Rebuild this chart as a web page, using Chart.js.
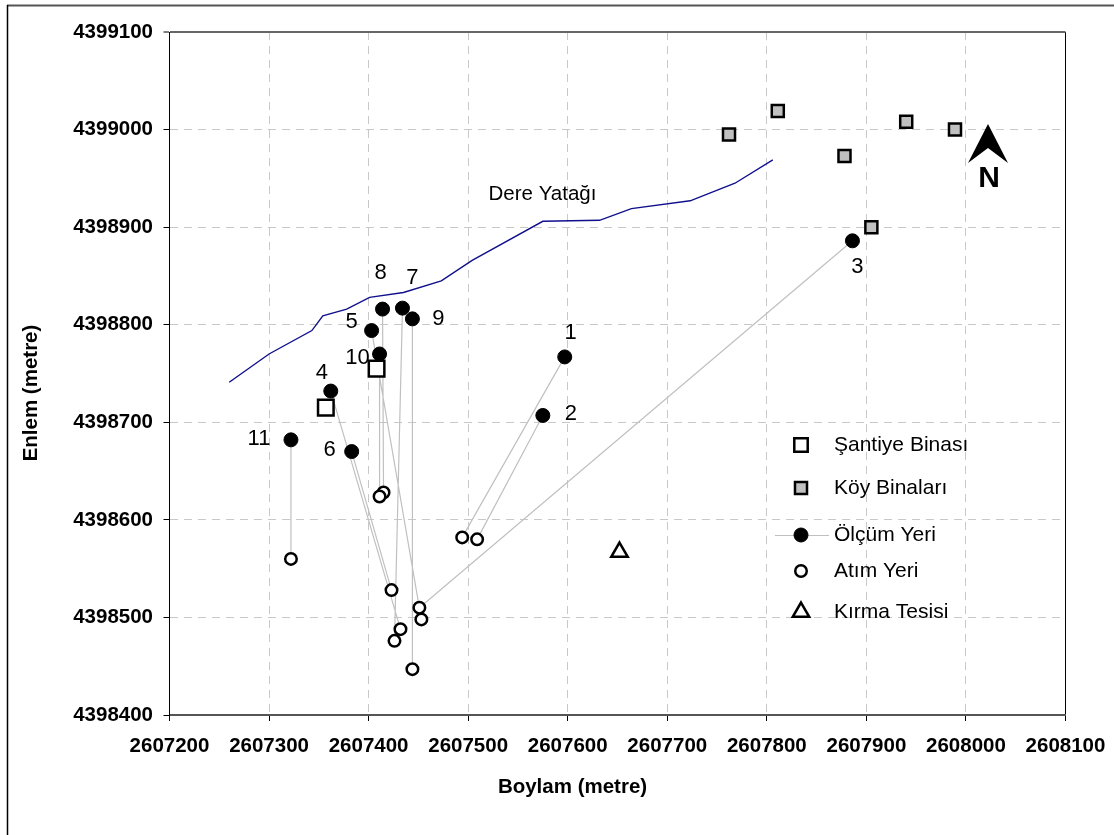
<!DOCTYPE html>
<html lang="tr">
<head>
<meta charset="UTF-8">
<title>Ölçüm ve Atım Yerleri</title>
<script src="https://cdn.jsdelivr.net/npm/chart.js"></script>
<style>
  html, body { margin: 0; background: #fff; }
  canvas { display: block; }
</style>
</head>
<body>
<canvas id="myChart" width="1114" height="835"></canvas>
<script>
// data
const xTicks = [2607200, 2607300, 2607400, 2607500, 2607600, 2607700, 2607800, 2607900, 2608000, 2608100];
const yTicks = [4398400, 4398500, 4398600, 4398700, 4398800, 4398900, 4399000, 4399100];

// measurement points 1..11 and the blast each one is tied to
const olcumNames = ['1', '2', '3', '4', '5', '6', '7', '8', '9', '10', '11'];
const olcumX = [2607597, 2607575, 2607886, 2607362, 2607403, 2607383, 2607434, 2607414, 2607444, 2607411, 2607322];
const olcumY = [4398767, 4398707, 4398886, 4398732, 4398794, 4398670, 4398817, 4398816, 4398806, 4398770, 4398682];
const atimX = [2607494, 2607509, 2607451, 2607432, 2607453, 2607423, 2607426, 2607415, 2607444, 2607411, 2607322];
const atimY = [4398582, 4398580, 4398510, 4398488, 4398498, 4398528, 4398476, 4398628, 4398447, 4398624, 4398560];

const santiyeX = [2607408, 2607357];
const santiyeY = [4398755, 4398715];
const koyX = [2607762, 2607811, 2607878, 2607940, 2607989, 2607905];
const koyY = [4398995, 4399019, 4398973, 4399008, 4399000, 4398900];
const kirmaX = [2607652];
const kirmaY = [4398567];

const dereX = [2607260, 2607300, 2607343, 2607354, 2607378, 2607401, 2607435, 2607473, 2607504, 2607575, 2607632, 2607664, 2607723, 2607768, 2607806];
const dereY = [4398741, 4398770, 4398794, 4398809, 4398816, 4398828, 4398833, 4398845, 4398866, 4398906, 4398907, 4398919, 4398927, 4398945, 4398969];

const pts = (xs, ys) => xs.map((x, i) => ({ x: x, y: ys[i] }));

// one line with gaps, olcum -> atim
const baglanti = [];
olcumX.forEach((x, i) => {
    baglanti.push({ x: x, y: olcumY[i] }, { x: atimX[i], y: atimY[i] }, { x: x, y: null });
});

const FONT = '"Liberation Sans", Arial, sans-serif';
const GRID = '#c8c8c8';

const styles = {
    santiye: { pointStyle: 'rect', radius: 11, legendRadius: 9.5, borderWidth: 2.5, borderColor: '#000', backgroundColor: '#fff' },
    koy: { pointStyle: 'rect', radius: 8.5, borderWidth: 2.5, borderColor: '#000', backgroundColor: '#c0c0c0' },
    olcum: { pointStyle: 'circle', radius: 7, borderWidth: 1, borderColor: '#000', backgroundColor: '#000' },
    atim: { pointStyle: 'circle', radius: 5.75, borderWidth: 2.5, borderColor: '#000', backgroundColor: '#fff' },
    kirma: { pointStyle: 'triangle', radius: 9.5, borderWidth: 2.5, borderColor: '#000', backgroundColor: '#fff' }
};

function scatter(label, data, st, order) {
    return {
        label: label, data: data, order: order, showLine: false,
        pointStyle: st.pointStyle, pointRadius: st.radius, pointBorderWidth: st.borderWidth,
        pointBorderColor: st.borderColor, pointBackgroundColor: st.backgroundColor
    };
}

// labels, frame, north arrow and the legend box
const numberOffsets = [[6, -24], [28, -2], [5, 26], [-9, -18], [-20, -9], [-22, -2], [10, -30], [-2, -36], [26, 0], [-22, 4], [-32, -1]];
const legendRows = [
    { text: 'Şantiye Binası', st: styles.santiye, y: 445 },
    { text: 'Köy Binaları', st: styles.koy, y: 488 },
    { text: 'Ölçüm Yeri', st: styles.olcum, y: 535, line: true },
    { text: 'Atım Yeri', st: styles.atim, y: 571 },
    { text: 'Kırma Tesisi', st: styles.kirma, y: 612 }
];

const extras = {
    id: 'extras',
    afterDraw(chart) {
        const ctx = chart.ctx, sx = chart.scales.x, sy = chart.scales.y;
        ctx.save();

        // frame, only top and left are inside the picture
        ctx.strokeStyle = '#555';
        ctx.lineWidth = 2;
        ctx.beginPath();
        ctx.moveTo(7, 5.5);
        ctx.lineTo(1114, 5.5);
        ctx.stroke();
        ctx.strokeStyle = '#000';
        ctx.lineWidth = 1.5;
        ctx.beginPath();
        ctx.moveTo(7.5, 835);
        ctx.lineTo(7.5, 5);
        ctx.stroke();

        ctx.fillStyle = '#000';
        ctx.textAlign = 'center';
        ctx.textBaseline = 'middle';

        // axis titles sit off centre here
        ctx.font = 'bold 20.5px ' + FONT;
        ctx.fillText('Boylam (metre)', 572.5, 787);
        ctx.save();
        ctx.translate(31, 393);
        ctx.rotate(-Math.PI / 2);
        ctx.fillText('Enlem (metre)', 0, 0);
        ctx.restore();

        ctx.font = '22px ' + FONT;
        olcumNames.forEach((n, i) => {
            ctx.fillText(n, sx.getPixelForValue(olcumX[i]) + numberOffsets[i][0], sy.getPixelForValue(olcumY[i]) + numberOffsets[i][1]);
        });

        ctx.font = '20.5px ' + FONT;
        ctx.fillText('Dere Yatağı', 542.5, 194);

        ctx.beginPath();
        ctx.moveTo(988, 124);
        ctx.lineTo(1008, 163);
        ctx.lineTo(988, 148);
        ctx.lineTo(968, 163);
        ctx.closePath();
        ctx.fill();
        ctx.font = 'bold 30px ' + FONT;
        ctx.fillText('N', 989, 179);

        ctx.textAlign = 'left';
        ctx.font = '21px ' + FONT;
        legendRows.forEach(r => {
            if (r.line) {
                ctx.strokeStyle = '#c0c0c0';
                ctx.lineWidth = 1.2;
                ctx.beginPath();
                ctx.moveTo(775, r.y + 0.5);
                ctx.lineTo(829, r.y + 0.5);
                ctx.stroke();
            }
            ctx.fillStyle = r.st.backgroundColor;
            ctx.strokeStyle = r.st.borderColor;
            ctx.lineWidth = r.st.borderWidth;
            Chart.helpers.drawPoint(ctx, { pointStyle: r.st.pointStyle, radius: r.st.legendRadius || r.st.radius, borderWidth: r.st.borderWidth }, 801, r.y);
            ctx.fillStyle = '#000';
            ctx.fillText(r.text, 834, r.y);
        });
        ctx.restore();
    }
};

new Chart(document.getElementById('myChart').getContext('2d'), {
    type: 'scatter',
    data: {
        datasets: [
            { label: 'Dere Yatağı', data: pts(dereX, dereY), showLine: true, borderColor: '#10108c', borderWidth: 1.4, pointRadius: 0, tension: 0, order: 6 },
            { label: 'Bağlantı', data: baglanti, showLine: true, spanGaps: false, borderColor: '#c0c0c0', borderWidth: 1.2, pointRadius: 0, tension: 0, order: 5 },
            scatter('Ölçüm Yeri', pts(olcumX, olcumY), styles.olcum, 4),
            scatter('Atım Yeri', pts(atimX, atimY), styles.atim, 3),
            scatter('Kırma Tesisi', pts(kirmaX, kirmaY), styles.kirma, 2),
            scatter('Köy Binaları', pts(koyX, koyY), styles.koy, 2),
            scatter('Şantiye Binası', pts(santiyeX, santiyeY), styles.santiye, 1)
        ]
    },
    options: {
        responsive: false,
        animation: false,
        events: [],
        layout: { autoPadding: false, padding: { left: 0, top: 32, right: 48.5, bottom: 0 } },
        plugins: { legend: { display: false }, tooltip: { enabled: false }, title: { display: false } },
        scales: {
            x: {
                type: 'linear', min: 2607200, max: 2608100,
                afterFit(s) { s.height = 120; s.paddingLeft = 0; s.paddingRight = 0; },
                afterBuildTicks(s) { s.ticks = xTicks.map(v => ({ value: v })); },
                ticks: { color: '#000', font: { family: FONT, size: 20.5, weight: 'bold' }, padding: 13, maxRotation: 0, autoSkip: false, callback: v => String(v) },
                grid: { color: c => (c.index === 0 || c.index === xTicks.length - 1) ? '#000' : GRID, tickColor: '#000', tickLength: 6, lineWidth: 1 },
                border: { color: '#555', width: 2, dash: c => (c.index === 0 || c.index === xTicks.length - 1) ? [] : [8, 6] }
            },
            y: {
                type: 'linear', min: 4398400, max: 4399100,
                afterFit(s) { s.width = 169.5; },
                afterBuildTicks(s) { s.ticks = yTicks.map(v => ({ value: v })); },
                ticks: { color: '#000', font: { family: FONT, size: 20.5, weight: 'bold' }, padding: 10.5, autoSkip: false, callback: v => String(v) },
                grid: { color: c => c.index === yTicks.length - 1 ? '#666' : (c.index === 0 ? '#555' : GRID), lineWidth: c => c.index === yTicks.length - 1 ? 2 : 1, tickColor: '#000', tickWidth: 1, tickLength: 6 },
                border: { color: '#000', width: 1, dash: c => (c.index === 0 || c.index === yTicks.length - 1) ? [] : [8, 6] }
            }
        }
    },
    plugins: [extras]
});
</script>
</body>
</html>
